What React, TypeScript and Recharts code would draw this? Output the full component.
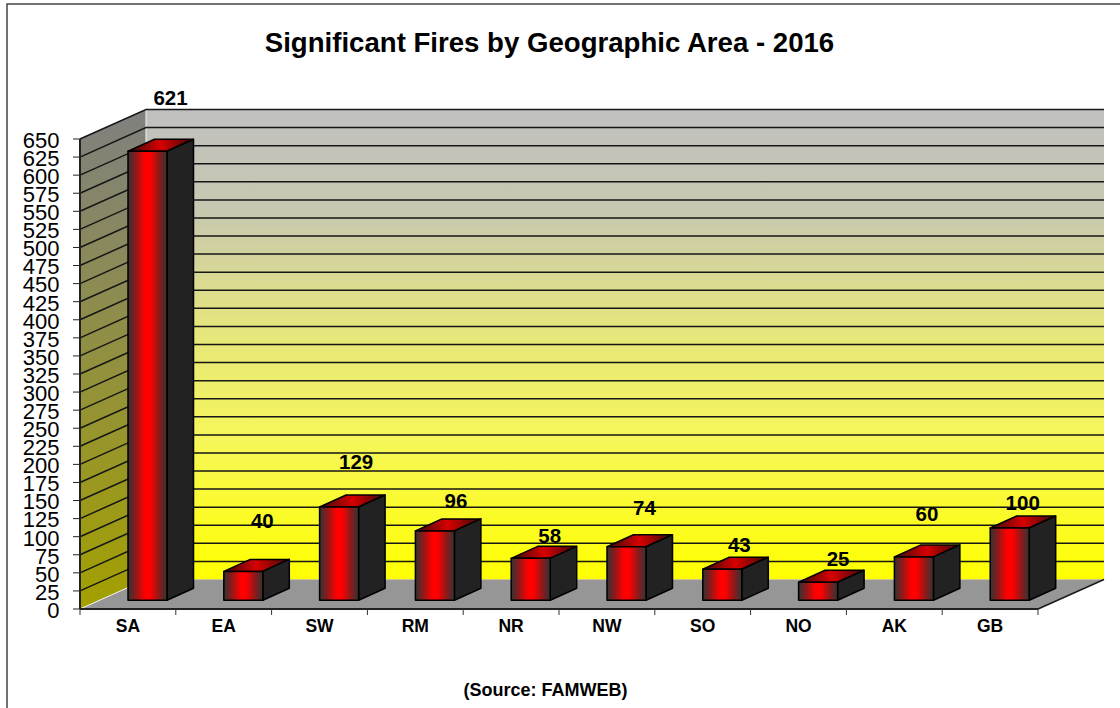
import { Bar, BarChart, CartesianGrid, LabelList, XAxis, YAxis } from 'recharts';

const areas = ['SA', 'EA', 'SW', 'RM', 'NR', 'NW', 'SO', 'NO', 'AK', 'GB'];
const fires = [621, 40, 129, 96, 58, 74, 43, 25, 60, 100];
const yTicks = [0, 25, 50, 75, 100, 125, 150, 175, 200, 225, 250, 275, 300, 325, 350, 375, 400, 425, 450, 475, 500, 525, 550, 575, 600, 625, 650];

const rows = areas.map((area, i) => ({ area, fires: fires[i] }));

// where excel left each data label, relative to the top middle of the bar's slot
const labelShiftX = [43, 39, 37, 41, 39, 38, 37, 40, 33, 33];
const labelShiftY = [-62, -60, -54, -39, -32, -48, -33, -32, -52, -34];

const W = 1120;
const H = 708;
const plot = { left: 80, top: 139, right: 1038, bottom: 609 };
// fake 3d: the back wall sits this far from the front plane
const depthX = 66;
const depthY = 29.5;
// bars stand part way into the floor
const barShiftX = 20;
const barShiftY = 8.7;
const barDepthX = 26.5;
const barDepthY = 12;

const font = '"Liberation Sans", Arial, sans-serif';

function Walls() {
  const { left, top, right, bottom } = plot;
  return (
    <g>
      <rect x={left + depthX} y={top - depthY} width={right - left} height={bottom - top} fill="url(#backWall)" />
      <polygon
        points={`${left},${top} ${left + depthX},${top - depthY} ${left + depthX},${bottom - depthY} ${left},${bottom}`}
        fill="url(#sideWall)"
      />
      <polygon
        points={`${left},${bottom} ${right},${bottom} ${right + depthX},${bottom - depthY} ${left + depthX},${bottom - depthY}`}
        fill="#969696"
      />
      <line x1={left + depthX} y1={top - depthY} x2={left + depthX} y2={bottom - depthY} stroke="#f2f2f2" strokeWidth={1} />
      <line x1={left} y1={bottom} x2={left + depthX} y2={bottom - depthY} stroke="#f2f2f2" strokeWidth={1} />
      <line x1={right} y1={bottom} x2={right + depthX} y2={bottom - depthY} stroke="#1a1a1a" strokeWidth={1.5} />
    </g>
  );
}

// each grid line runs along the side wall and then across the back wall
function gridLine(props: any) {
  const { x1, x2, y1, key } = props;
  if (Math.abs(y1 - plot.bottom) < 1) return <g key={key} />;
  return (
    <path
      key={key}
      d={`M${x1},${y1} L${x1 + depthX},${y1 - depthY} L${x2 + depthX},${y1 - depthY}`}
      fill="none"
      stroke="#161616"
      strokeWidth={1.5}
    />
  );
}

function Bar3D(props: any) {
  const { x, y, width, height } = props;
  const fx = x + barShiftX;
  const fy = y - barShiftY;
  const fr = fx + width;
  const fb = fy + height;
  return (
    <g stroke="#000" strokeWidth={1.5} strokeLinejoin="round">
      <polygon
        points={`${fx},${fy} ${fr},${fy} ${fr + barDepthX},${fy - barDepthY} ${fx + barDepthX},${fy - barDepthY}`}
        fill="url(#barTop)"
      />
      <polygon
        points={`${fr},${fy} ${fr + barDepthX},${fy - barDepthY} ${fr + barDepthX},${fb - barDepthY} ${fr},${fb}`}
        fill="#222222"
      />
      <rect x={fx} y={fy} width={width} height={height} fill="url(#barFront)" />
    </g>
  );
}

function ValueLabel(props: any) {
  const { x, y, width, index, value } = props;
  return (
    <text
      x={x + width / 2 + labelShiftX[index]}
      y={y + labelShiftY[index]}
      textAnchor="middle"
      dominantBaseline="central"
      fontFamily={font}
      fontWeight="bold"
      fontSize={20.5}
      fill="#000"
    >
      {value}
    </text>
  );
}

function AreaTick(props: any) {
  const { x, y, index, payload } = props;
  const half = (plot.right - plot.left) / areas.length / 2;
  return (
    <g>
      <line x1={x - half} y1={plot.bottom} x2={x - half} y2={plot.bottom + 6} stroke="#333" strokeWidth={1} />
      {index === areas.length - 1 && (
        <line x1={x + half} y1={plot.bottom} x2={x + half} y2={plot.bottom + 6} stroke="#333" strokeWidth={1} />
      )}
      <text x={x} y={y + 14.5} textAnchor="middle" fontFamily={font} fontWeight="bold" fontSize={17.5} fill="#000">
        {payload.value}
      </text>
    </g>
  );
}

export default function App() {
  return (
    <div style={{ position: 'absolute', left: 0, top: 0, width: W, height: H, overflow: 'hidden', background: '#fff' }}>
      <BarChart
        width={W}
        height={H}
        data={rows}
        barSize={39}
        margin={{ top: plot.top, right: W - plot.right, bottom: H - plot.bottom - 40, left: 0 }}
      >
        <defs>
          <linearGradient id="backWall" x1="0" y1="0" x2="0" y2="1">
            <stop offset="0%" stopColor="#c0c0c0" />
            <stop offset="22%" stopColor="#c8c8b0" />
            <stop offset="45%" stopColor="#e4e480" />
            <stop offset="70%" stopColor="#f6f65a" />
            <stop offset="100%" stopColor="#ffff00" />
          </linearGradient>
          <linearGradient id="sideWall" x1="0" y1="0" x2="0" y2="1">
            <stop offset="0%" stopColor="#808080" />
            <stop offset="100%" stopColor="#a3a000" />
          </linearGradient>
          <linearGradient id="barFront" x1="0" y1="0" x2="1" y2="0">
            <stop offset="0%" stopColor="#333333" />
            <stop offset="20%" stopColor="#8c1a1a" />
            <stop offset="43%" stopColor="#ff0000" />
            <stop offset="57%" stopColor="#ff0000" />
            <stop offset="80%" stopColor="#8c1a1a" />
            <stop offset="100%" stopColor="#333333" />
          </linearGradient>
          <linearGradient id="barTop" x1="0" y1="0" x2="1" y2="0">
            <stop offset="0%" stopColor="#3a0a0a" />
            <stop offset="50%" stopColor="#d80000" />
            <stop offset="100%" stopColor="#3a0a0a" />
          </linearGradient>
        </defs>

        <rect x={7} y={4} width={W} height={H} fill="none" stroke="#444" strokeWidth={1.5} />
        <text x={549.5} y={52} textAnchor="middle" fontFamily={font} fontWeight="bold" fontSize={27.6} fill="#000">
          Significant Fires by Geographic Area - 2016
        </text>
        <text x={545.5} y={696} textAnchor="middle" fontFamily={font} fontWeight="bold" fontSize={18} fill="#000">
          (Source: FAMWEB)
        </text>

        <Walls />
        <CartesianGrid vertical={false} horizontal={gridLine} zIndex={0} />
        <XAxis
          dataKey="area"
          height={40}
          tickLine={false}
          axisLine={{ stroke: '#222', strokeWidth: 2 }}
          interval={0}
          tick={AreaTick}
        />
        <YAxis
          width={80}
          domain={[0, 650]}
          ticks={yTicks}
          interval={0}
          tickSize={7}
          tickMargin={13.5}
          tickLine={{ stroke: '#222', strokeWidth: 1 }}
          axisLine={{ stroke: '#222', strokeWidth: 2 }}
          tick={{ fontFamily: font, fontSize: 22, fill: '#000', dy: 1 }}
        />
        <Bar dataKey="fires" shape={Bar3D} isAnimationActive={false}>
          <LabelList dataKey="fires" content={ValueLabel} />
        </Bar>
      </BarChart>
    </div>
  );
}
